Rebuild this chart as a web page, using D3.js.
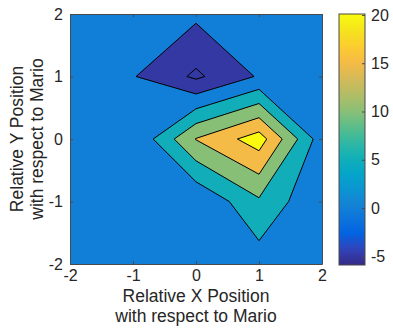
<!DOCTYPE html>
<html>
<head>
<meta charset="utf-8">
<script src="https://cdn.jsdelivr.net/npm/d3@7"></script>
<style>
  body { margin: 0; background: #fff; }
  svg { display: block; }
  text { font-family: "Liberation Sans", Arial, Helvetica, sans-serif; fill: #262626; }
</style>
</head>
<body>
<svg id="chart" width="393" height="329"></svg>
<script>
// grid positions (relative to Mario)
const xValues = [-2, -1, 0, 1, 2];
const yValues = [-2, -1, 0, 1, 2];
// one row per y value, y = -2 first
const zRows = [
  [1.0, 1.0, 1.0, 2.5, 1.0],
  [1.0, 0.5, 0.3, 9.2, 0.26],
  [1.0, 0.2, 15.2, 22.5, 2.15],
  [1.0, 0.3, -5.9, 0.5, 0.5],
  [1.0, 0.5, 1.02, 0.8, 1.0]
];
const levels = [-5, 0, 5, 10, 15, 20];
const axisTicks = [-2, -1, 0, 1, 2];
const colorbarTicks = [-5, 0, 5, 10, 15, 20];
const colorLimits = [-5.9, 20.1];

// parula
const parula = ['#352a87', '#3243ba', '#0363e1', '#0d75dc', '#1485d4', '#0998d1',
  '#06a7c6', '#15b1b4', '#38b99e', '#65be86', '#92bf73', '#b7bd64', '#d9ba56',
  '#f8bb44', '#fcce2e', '#f5e41d', '#f9fb0e'];

const svg = d3.select('#chart');
const plot = { left: 70, top: 14, right: 322, bottom: 264 };
const cbar = { left: 339, right: 365, top: 14, bottom: 265 };
const axisColor = '#4a4a4a';
const fmt = d => String(d); // plain hyphen minus, like matlab

const x = d3.scaleLinear().domain([-2, 2]).range([plot.left, plot.right]);
const y = d3.scaleLinear().domain([-2, 2]).range([plot.bottom, plot.top]);
const color = d3.scaleSequential(d3.piecewise(d3.interpolateRgb, parula)).domain(colorLimits);

// contours: d3 puts grid point i at coordinate i + 0.5
const nx = xValues.length, ny = yValues.length;
const gx = d3.scaleLinear().domain([0.5, nx - 0.5]).range([xValues[0], xValues[nx - 1]]);
const gy = d3.scaleLinear().domain([0.5, ny - 0.5]).range([yValues[0], yValues[ny - 1]]);
const bands = d3.contours().size([nx, ny]).thresholds(levels)(zRows.flat());
const path = d3.geoPath(d3.geoTransform({
  point(px, py) { this.stream.point(x(gx(px)), y(gy(py))); }
}));

svg.append('clipPath').attr('id', 'plotClip')
  .append('rect')
  .attr('x', plot.left).attr('y', plot.top)
  .attr('width', plot.right - plot.left).attr('height', plot.bottom - plot.top);

const gPlot = svg.append('g').attr('clip-path', 'url(#plotClip)');
gPlot.append('rect')
  .attr('x', plot.left).attr('y', plot.top)
  .attr('width', plot.right - plot.left).attr('height', plot.bottom - plot.top)
  .attr('fill', color(levels[0]));
gPlot.selectAll('path')
  .data(bands).join('path')
  .attr('d', path)
  .attr('fill', d => color(d.value))
  .attr('stroke', '#000')
  .attr('stroke-width', 1)
  .attr('stroke-linejoin', 'round');

// axes, ticks inside, box all round
function styleAxis(g, size) {
  g.attr('font-family', null).attr('font-size', size);
  g.select('.domain').attr('stroke', axisColor);
  g.selectAll('.tick line').attr('stroke', axisColor);
  g.selectAll('.tick text').attr('fill', '#262626');
}
svg.append('g')
  .attr('transform', `translate(0,${plot.bottom})`)
  .call(d3.axisBottom(x).tickValues(axisTicks).tickFormat(fmt).tickSizeInner(-3).tickSizeOuter(0).tickPadding(6))
  .call(g => styleAxis(g, 16));
svg.append('g')
  .attr('transform', `translate(0,${plot.top})`)
  .call(d3.axisTop(x).tickValues(axisTicks).tickSizeInner(-3).tickSizeOuter(0).tickFormat(''))
  .call(g => styleAxis(g, 16));
svg.append('g')
  .attr('transform', `translate(${plot.left},0)`)
  .call(d3.axisLeft(y).tickValues(axisTicks).tickFormat(fmt).tickSizeInner(-3).tickSizeOuter(0).tickPadding(7))
  .call(g => styleAxis(g, 16));
svg.append('g')
  .attr('transform', `translate(${plot.right},0)`)
  .call(d3.axisRight(y).tickValues(axisTicks).tickSizeInner(-3).tickSizeOuter(0).tickFormat(''))
  .call(g => styleAxis(g, 16));

// axis titles
const xTitle = svg.append('text')
  .attr('text-anchor', 'middle')
  .attr('font-size', 17.5);
xTitle.append('tspan').attr('x', x(0)).attr('y', 302).text('Relative X Position');
xTitle.append('tspan').attr('x', x(0)).attr('y', 322).text('with respect to Mario');

const yTitle = svg.append('text')
  .attr('text-anchor', 'middle')
  .attr('font-size', 17.5)
  .attr('transform', `translate(0,${y(0)}) rotate(-90)`);
yTitle.append('tspan').attr('x', 0).attr('y', 23).text('Relative Y Position');
yTitle.append('tspan').attr('x', 0).attr('y', 43).text('with respect to Mario');

// colorbar
const cy = d3.scaleLinear().domain(colorLimits).range([cbar.bottom, cbar.top]);
const grad = svg.append('defs').append('linearGradient')
  .attr('id', 'cbarGrad').attr('x1', 0).attr('y1', 1).attr('x2', 0).attr('y2', 0);
grad.selectAll('stop')
  .data(d3.range(0, 1.0001, 1 / 40))
  .join('stop')
  .attr('offset', d => d)
  .attr('stop-color', d => color(colorLimits[0] + d * (colorLimits[1] - colorLimits[0])));

svg.append('rect')
  .attr('x', cbar.left).attr('y', cbar.top)
  .attr('width', cbar.right - cbar.left).attr('height', cbar.bottom - cbar.top)
  .attr('fill', 'url(#cbarGrad)')
  .attr('stroke', axisColor).attr('stroke-width', 1);

svg.append('g')
  .attr('transform', `translate(${cbar.right},0)`)
  .call(d3.axisRight(cy).tickValues(colorbarTicks).tickFormat(fmt).tickSizeInner(-3).tickSizeOuter(0).tickPadding(6))
  .call(g => styleAxis(g, 16))
  .call(g => g.select('.domain').remove());
</script>
</body>
</html>
